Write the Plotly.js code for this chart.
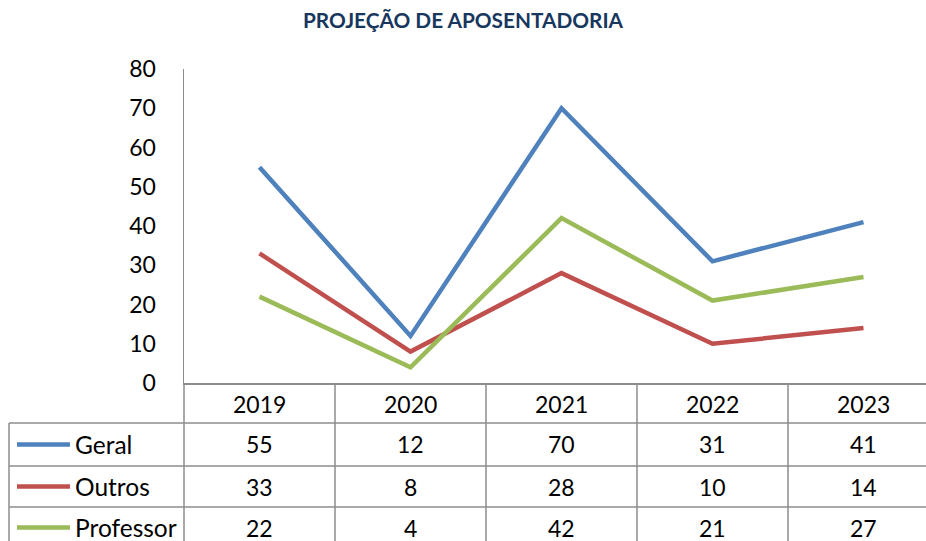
<!DOCTYPE html>
<html>
<head>
<meta charset="utf-8">
<script src="https://cdn.plot.ly/plotly-3.0.1.min.js"></script>
<style>
html,body{margin:0;padding:0;background:#fff;overflow:hidden;}
#chart{width:926px;height:541px;}
</style>
</head>
<body>
<div id="chart"></div>
<script>
// ---- data ----
const years = ['2019', '2020', '2021', '2022', '2023'];
const seriesNames = ['Geral', 'Outros', 'Professor'];
const geral = [55, 12, 70, 31, 41];
const outros = [33, 8, 28, 10, 14];
const professor = [22, 4, 42, 21, 27];
const yTicks = [0, 10, 20, 30, 40, 50, 60, 70, 80];

// ---- styling ----
const colors = ['#4F81BD', '#C0504D', '#9BBB59'];
const FONT = 'Lato, "Open Sans", sans-serif';
const W = 926, H = 541;
const plotLeft = 184, plotTop = 69, plotBottom = 383;
const plotW = W - plotLeft, plotH = plotBottom - plotTop;
const xMax = -0.5 + plotW / 151;
const gridColor = '#8c8c8c';

const px2paper = px => (px - plotLeft) / plotW;
const py2paper = py => (plotBottom - py) / plotH;

const allSeries = [geral, outros, professor];
const xIdx = years.map((_, i) => i);

const traces = allSeries.map((vals, s) => ({
  type: 'scatter', mode: 'lines',
  x: xIdx, y: vals, name: seriesNames[s],
  line: {color: colors[s], width: 4.5},
  hoverinfo: 'skip', cliponaxis: false
}));

// table geometry
const rowTops = [383, 423, 466, 507, 548];
const shapes = [];
const annotations = [];
const lineStyle = {color: gridColor, width: 1.5};

// horizontal lines
for (let r = 1; r < rowTops.length; r++) {
  shapes.push({type: 'line', xref: 'paper', yref: 'paper',
    x0: px2paper(9), x1: px2paper(W + 20), y0: py2paper(rowTops[r]), y1: py2paper(rowTops[r]), line: lineStyle});
}
// vertical lines
shapes.push({type: 'line', xref: 'paper', yref: 'paper',
  x0: px2paper(9), x1: px2paper(9), y0: py2paper(rowTops[1]), y1: py2paper(rowTops[4]), line: lineStyle});
for (let k = 0; k <= years.length; k++) {
  const px = plotLeft + 151 * k;
  shapes.push({type: 'line', xref: 'paper', yref: 'paper',
    x0: px2paper(px), x1: px2paper(px), y0: py2paper(rowTops[0]), y1: py2paper(rowTops[4]), line: lineStyle});
}

// header
years.forEach((yr, i) => {
  annotations.push({xref: 'x', yref: 'paper', x: i, y: py2paper((rowTops[0] + rowTops[1]) / 2 + 1),
    text: yr, showarrow: false, xanchor: 'center', yanchor: 'middle',
    font: {family: FONT, size: 23, color: '#000'}});
});

// rows
allSeries.forEach((vals, s) => {
  const cy = (rowTops[s + 1] + rowTops[s + 2]) / 2;
  shapes.push({type: 'line', xref: 'paper', yref: 'paper',
    x0: px2paper(17), x1: px2paper(70), y0: py2paper(cy), y1: py2paper(cy),
    line: {color: colors[s], width: 4.5}});
  annotations.push({xref: 'paper', yref: 'paper', x: px2paper(73), y: py2paper(cy),
    text: seriesNames[s], showarrow: false, xanchor: 'left', yanchor: 'middle',
    font: {family: FONT, size: 24.5, color: '#000'}});
  vals.forEach((v, i) => {
    annotations.push({xref: 'x', yref: 'paper', x: i, y: py2paper(cy),
      text: String(v), showarrow: false, xanchor: 'center', yanchor: 'middle',
      font: {family: FONT, size: 23, color: '#000'}});
  });
});

const layout = {
  width: W, height: H,
  margin: {l: plotLeft, r: 0, t: plotTop, b: H - plotBottom, pad: 0},
  paper_bgcolor: '#fff', plot_bgcolor: '#fff',
  showlegend: false,
  title: {text: '<b>PROJEÇÃO DE APOSENTADORIA</b>', xref: 'container', x: 0.5, xanchor: 'center',
    yref: 'container', y: 1 - 21 / H, yanchor: 'middle',
    font: {family: FONT, size: 20.8, color: '#17375E'}},
  xaxis: {range: [-0.5, xMax], showticklabels: false, showgrid: false, zeroline: false,
    showline: true, linecolor: gridColor, linewidth: 1.5, ticks: '', fixedrange: true},
  yaxis: {range: [0, 80], tickvals: yTicks, ticktext: yTicks.map(String), showgrid: false, zeroline: false,
    showline: true, linecolor: gridColor, linewidth: 1.5, ticks: '', ticklabelstandoff: 22,
    tickfont: {family: FONT, size: 23, color: '#000'}, fixedrange: true},
  shapes: shapes,
  annotations: annotations
};

Plotly.newPlot('chart', traces, layout, {staticPlot: true, displayModeBar: false});
</script>
</body>
</html>
